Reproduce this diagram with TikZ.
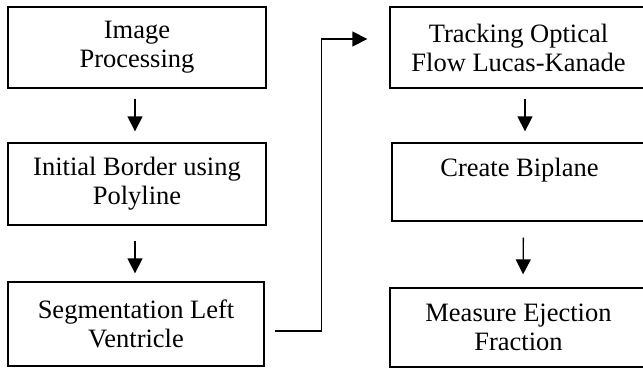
\documentclass[tikz,border=0pt]{standalone}
\usepackage{fontspec}
\setmainfont{Liberation Serif}
\usetikzlibrary{arrows.meta}
\begin{document}
\begin{tikzpicture}[x=1pt,y=-1pt,
  box/.style={draw, line width=1.3pt, inner sep=0pt, align=center,
    font=\fontsize{26.5}{29}\selectfont, minimum width=#1},
  box/.default=258pt,
  arr/.style={line width=1.3pt, -{Triangle[width=15pt,length=15pt]}}]
\clip (0,0) rectangle (643,370);
\node[box, minimum height=81pt] (b1) at (137,47.5) {Image\\Processing};
\node[box, minimum height=82pt] (b2) at (137,184) {Initial Border using\\Polyline};
\node[box=256pt, minimum height=84pt] (b3) at (136,324) {Segmentation Left\\Ventricle};
\node[box=257pt, minimum height=81pt] (b4) at (518.5,47.5) {Tracking Optical\\Flow Lucas-Kanade};
\node[box=255pt, minimum height=78pt] (b5) at (519.5,182) {Create Biplane\\[0pt]~};
\node[box=257pt, minimum height=79pt] (b6) at (518.5,327.5) {Measure Ejection\\Fraction};
\draw[arr, shorten <=10pt, shorten >=11pt] ([xshift=-2pt]b1.south) -- ([xshift=-2pt]b2.north);
\draw[arr, shorten <=15pt, shorten >=8pt] ([xshift=-2pt]b2.south) -- ([xshift=-1pt]b3.north);
\draw[arr, shorten <=10pt, shorten >=11pt] ([xshift=6.5pt]b4.south) -- ([xshift=5.5pt]b5.north);
\draw[arr, shorten <=16pt, shorten >=13pt] ([xshift=4pt]b5.south) -- ([xshift=4.5pt]b6.north);
\draw[arr] ([shift={(10,7)}]b3.east) -- ++(47,0) |- ([shift={(-22,-8.5)}]b4.west);
\end{tikzpicture}
\end{document}
